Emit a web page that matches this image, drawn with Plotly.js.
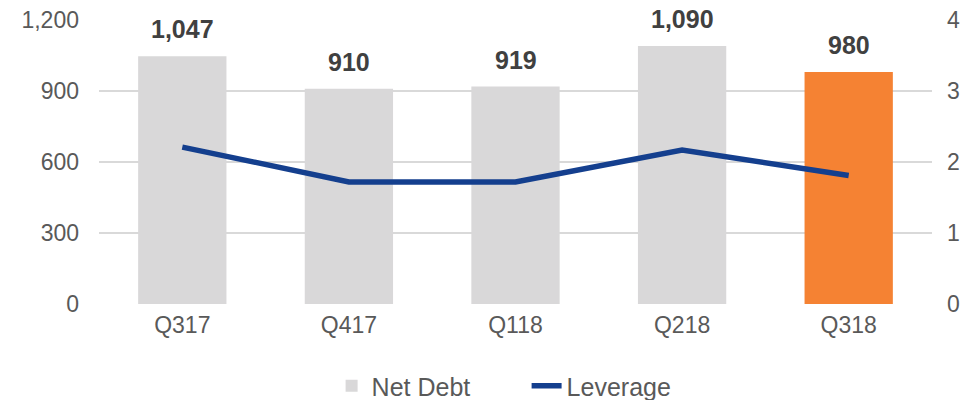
<!DOCTYPE html>
<html>
<head>
<meta charset="utf-8">
<script src="https://cdn.plot.ly/plotly-3.0.1.min.js"></script>
<style>html,body{margin:0;padding:0;background:#fff;}#chart{width:977px;height:400px;}</style>
</head>
<body>
<div id="chart"></div>
<script>
const quarters = ["Q317", "Q417", "Q118", "Q218", "Q318"];
const netDebt = [1047, 910, 919, 1090, 980];
const leverage = [2.21, 1.72, 1.72, 2.17, 1.81];
const barColors = ["#D9D8D9", "#D9D8D9", "#D9D8D9", "#D9D8D9", "#F58233"];

const FONT = "Liberation Sans, Arial, sans-serif";

const traces = [
  {
    type: "bar", name: "Net Debt", x: quarters, y: netDebt,
    marker: {color: barColors}, hoverinfo: "skip"
  },
  {
    type: "scatter", mode: "lines", name: "Leverage", x: quarters, y: leverage,
    yaxis: "y2", line: {color: "#143F8E", width: 5.5}, hoverinfo: "skip"
  }
];

const annotations = quarters.map((q, i) => ({
  x: q, y: netDebt[i], xref: "x", yref: "y",
  text: netDebt[i].toLocaleString("en-US"),
  showarrow: false, yanchor: "bottom", yshift: 11,
  font: {family: FONT, size: 25, color: "#404040", weight: "bold"}
}));

const layout = {
  width: 977, height: 400,
  margin: {l: 99, r: 45, t: 19.5, b: 95.5},
  paper_bgcolor: "#fff", plot_bgcolor: "#fff",
  font: {family: FONT, size: 23, color: "#595959"},
  bargap: 0.47,
  showlegend: true,
  legend: {
    orientation: "h", xref: "container", x: 0.539, xanchor: "center",
    yref: "container", y: 0.035, yanchor: "middle",
    font: {family: FONT, size: 25, color: "#595959"},
    itemwidth: 30, traceorder: "normal",
    entrywidth: 150, entrywidthmode: "pixels"
  },
  xaxis: {
    type: "category", showgrid: false, zeroline: false,
    showline: false, ticks: "", tickfont: {size: 23, color: "#595959"},
    ticklabelstandoff: 5
  },
  yaxis: {
    range: [0, 1200], tickvals: [0, 300, 600, 900, 1200], tickformat: ",",
    showgrid: true, gridcolor: "#D9D9D9", gridwidth: 2, zeroline: false,
    tickfont: {size: 23, color: "#595959"}, ticklabelstandoff: 19
  },
  yaxis2: {
    range: [0, 4], tickvals: [0, 1, 2, 3, 4], overlaying: "y", side: "right",
    showgrid: false, zeroline: false,
    tickfont: {size: 23, color: "#595959"}, ticklabelstandoff: 14
  },
  annotations: annotations
};

Plotly.newPlot("chart", traces, layout, {staticPlot: true, displayModeBar: false});
</script>
</body>
</html>
